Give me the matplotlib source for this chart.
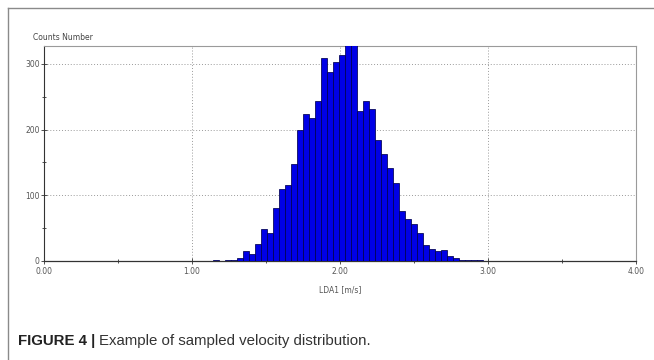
import matplotlib
matplotlib.use("Agg")
import matplotlib.pyplot as plt
from matplotlib.ticker import MultipleLocator, FixedLocator
from matplotlib.lines import Line2D

# ---- data ----
bin_start = 1.1396
bin_width = 0.0406
counts = [1, 0, 1, 2, 5, 15, 11, 26, 48, 43, 80, 110, 116, 147, 199, 224, 218,
          244, 308, 288, 303, 314, 328, 331, 228, 243, 231, 184, 163, 141, 118,
          76, 64, 57, 43, 25, 18, 15, 16, 8, 5, 2, 2, 1, 1]
x_ticks = [0, 1, 2, 3, 4]
x_tick_labels = ["0.00", "1.00", "2.00", "3.00", "4.00"]
y_ticks = [0, 100, 200, 300]
y_label = "Counts Number"
x_label = "LDA1 [m/s]"
caption_bold = "FIGURE 4 | "
caption_text = "Example of sampled velocity distribution."

W, H = 654, 360
fig = plt.figure(figsize=(W / 100, H / 100), dpi=100)
fig.patch.set_facecolor("white")

# outer frame (top and left lines of the embedded screenshot)
fig.add_artist(Line2D([8 / W, 1.0], [1 - 8 / H, 1 - 8 / H], transform=fig.transFigure,
                      color="#8a8a8a", lw=1.0))
fig.add_artist(Line2D([8 / W, 8 / W], [0.0, 1 - 8 / H], transform=fig.transFigure,
                      color="#8a8a8a", lw=1.0))

left, right, bottom, top = 44 / W, 636 / W, 1 - 261 / H, 1 - 46 / H
ax = fig.add_axes([left, bottom, right - left, top - bottom])

lefts = [bin_start + i * bin_width for i in range(len(counts))]
ax.bar(lefts, counts, width=bin_width, align="edge", color="#0000E6",
       edgecolor="#000050", linewidth=0.55, zorder=3)

ax.set_xlim(0, 4)
ax.set_ylim(0, 327)

ax.xaxis.set_major_locator(FixedLocator(x_ticks))
ax.set_xticklabels(x_tick_labels)
ax.xaxis.set_minor_locator(MultipleLocator(0.5))
ax.yaxis.set_major_locator(FixedLocator(y_ticks))
ax.yaxis.set_minor_locator(MultipleLocator(50))

ax.grid(True, which="major", linestyle=(0, (1, 2)), color="#9a9a9a", linewidth=0.7, zorder=0)

for s in ["top", "right"]:
    ax.spines[s].set_color("#9a9a9a")
    ax.spines[s].set_linewidth(0.8)
ax.spines["left"].set_color("#333333")
ax.spines["left"].set_linewidth(0.8)
ax.spines["left"].set_linestyle((0, (2, 1)))
ax.spines["bottom"].set_color("#333333")
ax.spines["bottom"].set_linewidth(0.9)

tick_font = dict(labelsize=5.5, labelcolor="#555555", color="#333333")
ax.tick_params(axis="both", which="major", direction="inout", length=4, width=0.6, **tick_font)
ax.tick_params(axis="both", which="minor", direction="inout", length=3, width=0.6, color="#333333")
ax.tick_params(axis="x", pad=2)
ax.tick_params(axis="y", pad=1)
for lab in ax.get_xticklabels() + ax.get_yticklabels():
    lab.set_family("DejaVu Sans")

ax.set_xlabel(x_label, fontsize=5.5, color="#555555", labelpad=7)
fig.text(33 / W, 1 - 37 / H, y_label, fontsize=5.5, color="#444444", va="center", ha="left")

# caption
t1 = fig.text(18 / W, 1 - 341 / H, caption_bold, fontsize=10.8, fontweight="bold",
              family="Liberation Sans", color="#222222", va="center", ha="left")
fig.canvas.draw()
bb = t1.get_window_extent()
fig.text(bb.x1 / W, 1 - 341 / H, caption_text, fontsize=10.8,
         family="Liberation Sans", color="#333333", va="center", ha="left")

fig.savefig("out.png", dpi=100, facecolor="white")
